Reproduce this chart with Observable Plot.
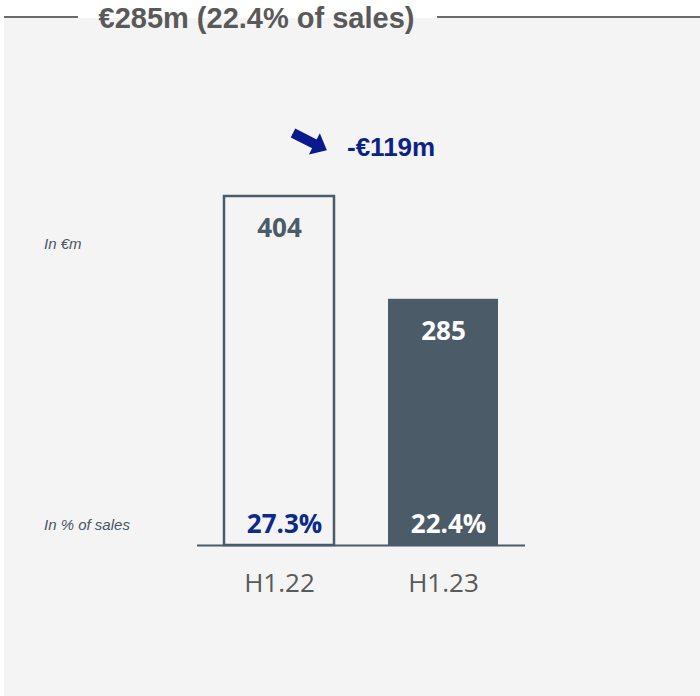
<!DOCTYPE html>
<html>
<head>
<meta charset="utf-8">
<script src="https://cdn.jsdelivr.net/npm/d3@7"></script>
<script src="https://cdn.jsdelivr.net/npm/@observablehq/plot@0.6"></script>
<style>
  html, body { margin: 0; padding: 0; background: #ffffff; }
  #wrap { position: relative; width: 700px; height: 696px; overflow: hidden; }
  #panel { position: absolute; left: 4px; top: 18px; right: 0; bottom: 0; background: #f4f4f4; }
  .line { position: absolute; top: 16px; height: 2px; background: #6b6b6b; }
  #title { position: absolute; left: 0; width: 513px; top: 0px; text-align: center;
           font: bold 29px "Liberation Sans", Arial, sans-serif; color: #595959; line-height: 36px; }
  .side { position: absolute; left: 44px; font: italic 15px "Liberation Sans", Arial, sans-serif; color: #4a5564; }
  #delta { position: absolute; left: 347px; top: 132px; font: bold 26px "Liberation Sans", Arial, sans-serif; color: #0b2288; }
  #arrow { position: absolute; left: 286px; top: 124px; }
  #chart { position: absolute; left: 0; top: 0; }
</style>
</head>
<body>
<div id="wrap">
  <div id="panel"></div>
  <div class="line" style="left:4px; width:74px;"></div>
  <div class="line" style="left:437px; right:0;"></div>
  <div id="title"></div>
  <div class="side" style="top:235px;">In €m</div>
  <div class="side" style="top:516px;">In % of sales</div>
  <svg id="arrow" width="50" height="40" viewBox="0 0 50 40">
    <g transform="translate(7,9) rotate(27)">
      <polygon points="0,-5 24,-5 24,-12 38,0 24,12 24,5 0,5" fill="#0a1a8c"/>
    </g>
  </svg>
  <div id="delta"></div>
  <div id="chart"></div>
</div>
<script>
const periods = ["H1.22", "H1.23"];
const values = [404, 285];
const pctOfSales = ["27.3%", "22.4%"];

const data = periods.map((p, i) => ({period: p, value: values[i], pct: pctOfSales[i]}));
const delta = values[1] - values[0];

document.getElementById("title").textContent = `€${values[1]}m (${pctOfSales[1]} of sales)`;
document.getElementById("delta").textContent = (delta < 0 ? "-" : "+") + "€" + Math.abs(delta) + "m";

const dark = "#4b5b68";
const navy = "#0b2a8c";

const chart = Plot.plot({
  width: 700,
  height: 696,
  marginLeft: 197,
  marginRight: 175,
  marginTop: 196,
  marginBottom: 151,
  style: {background: "transparent", overflow: "visible"},
  x: {domain: periods, paddingInner: 0.33, paddingOuter: 0.165, axis: null},
  y: {domain: [0, 404], axis: null},
  marks: [
    Plot.barY(data, {
      x: "period", y: "value",
      fill: d => d.period === periods[0] ? "none" : dark,
      stroke: d => d.period === periods[0] ? dark : "none",
      strokeWidth: 2.5
    }),
    Plot.ruleY([0], {stroke: dark, strokeWidth: 2}),
    Plot.text(data, {
      x: "period", y: "value", text: d => String(d.value),
      dy: 32, fontSize: 26, fontWeight: "bold", fontFamily: "Open Sans",
      fill: d => d.period === periods[0] ? dark : "#ffffff"
    }),
    Plot.text(data, {
      x: "period", y: () => 0, text: "pct",
      dy: -21, dx: 5, fontSize: 26, fontWeight: "bold", fontFamily: "Open Sans",
      fill: d => d.period === periods[0] ? navy : "#ffffff"
    }),
    Plot.text(data, {
      x: "period", y: () => 0, text: "period",
      dy: 38, fontSize: 26, fontFamily: "Open Sans", fill: "#595959"
    })
  ]
});
document.getElementById("chart").appendChild(chart);
</script>
</body>
</html>
